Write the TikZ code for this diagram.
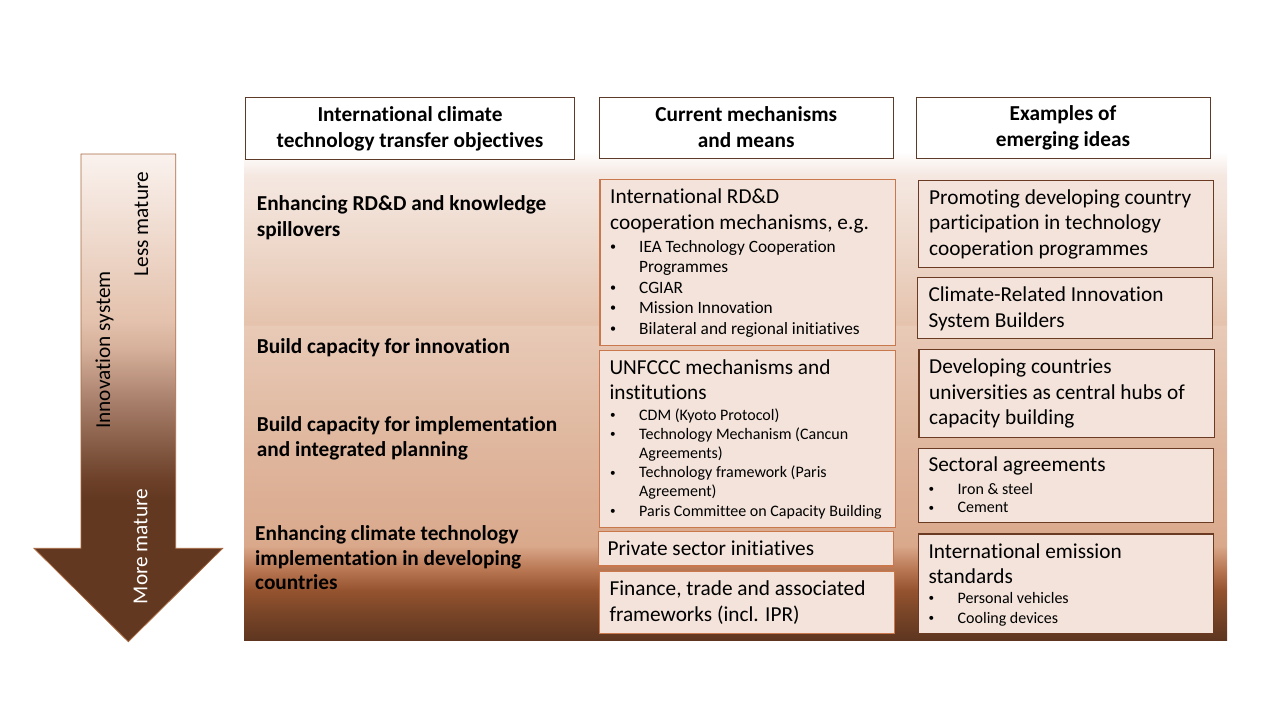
\documentclass[tikz,border=0pt]{standalone}
\usepackage{fontspec}
\setmainfont{Carlito}[Ligatures=NoCommon]

% colours
\definecolor{hdrline}{HTML}{5E3A28}
\definecolor{midline}{HTML}{C8784C}
\definecolor{rightline}{HTML}{6B3A22}
\definecolor{boxfill}{HTML}{F3E3DA}
\definecolor{arrline}{HTML}{A8683F}
% panel shading stops
\definecolor{pA}{HTML}{FFFFFF}
\definecolor{pB}{HTML}{F5E8E1}
\definecolor{pC}{HTML}{EDD7C9}
\definecolor{pD}{HTML}{E5C3AD}
\definecolor{pE}{HTML}{E8CAB7}
\definecolor{pF}{HTML}{DFB69D}
\definecolor{pG}{HTML}{DAA98C}
\definecolor{pH}{HTML}{B87652}
\definecolor{pI}{HTML}{95532F}
\definecolor{pJ}{HTML}{774427}
\definecolor{pK}{HTML}{5E3620}
% arrow shading stops
\definecolor{aA}{HTML}{FAF2EE}
\definecolor{aB}{HTML}{EDD6C8}
\definecolor{aC}{HTML}{E4C2AD}
\definecolor{aD}{HTML}{D5AF99}
\definecolor{aE}{HTML}{A9806C}
\definecolor{aF}{HTML}{8A604A}
\definecolor{aG}{HTML}{6C4029}
\definecolor{aH}{HTML}{633820}

% bbox of a path is mapped onto 25bp..75bp of the shading
\pgfdeclareverticalshading{panelshade}{100bp}{%
  color(0bp)=(pK); color(25bp)=(pK); color(27.6bp)=(pJ); color(30.1bp)=(pI);
  color(32.2bp)=(pH); color(34.7bp)=(pG); color(44.5bp)=(pF);
  color(57.2bp)=(pE); color(57.3bp)=(pD); color(65bp)=(pC);
  color(72.6bp)=(pB); color(75bp)=(pA); color(100bp)=(pA)}
\pgfdeclareverticalshading{arrowshade}{100bp}{%
  color(0bp)=(aH); color(25bp)=(aH); color(39.5bp)=(aH); color(41.6bp)=(aG);
  color(45.7bp)=(aF); color(49.8bp)=(aE); color(54.9bp)=(aD);
  color(58bp)=(aC); color(65.2bp)=(aB); color(75bp)=(aA); color(100bp)=(aA)}

% stacked lines with a fixed baseline distance; node baseline = first line
\newcommand\rows[2]{\vtop{\baselineskip=#1\lineskiplimit=-100pt\lineskip=0pt
  \halign{##\hfil\cr#2\crcr}}}
\newcommand\crows[2]{\vtop{\baselineskip=#1\lineskiplimit=-100pt\lineskip=0pt
  \halign{\hfil##\hfil\cr#2\crcr}}}
\newcommand\bl[1]{\hbox to 30pt{\kern1pt\raisebox{0.1em}{\scalebox{0.7}{\textbullet}}\hfil}#1}
\newcommand\cont[1]{\hskip30pt #1}

% rectangle node given by its corners
\newcommand\boxnode[6]{%
  \node[#2, minimum width=(#5-#3)*1pt, minimum height=(#6-#4)*1pt]
    (#1) at ({(#3+#5)/2},{(#4+#6)/2}) {};}

\tikzset{
  hdr/.style={draw=hdrline, line width=0.9pt, fill=white, inner sep=0pt, outer sep=0pt},
  midbox/.style={draw=midline, line width=1.1pt, fill=boxfill, inner sep=0pt, outer sep=0pt},
  rightbox/.style={draw=rightline, line width=1.1pt, fill=boxfill, inner sep=0pt, outer sep=0pt},
  hdrtext/.style={font=\fontsize{21.3}{26}\selectfont\bfseries, inner sep=0pt, anchor=base},
  lbl/.style={font=\fontsize{21.3}{26}\selectfont\bfseries, inner sep=0pt, anchor=base west},
  body/.style={font=\fontsize{21.3}{26}\selectfont, inner sep=0pt, anchor=base west},
  bullA/.style={font=\fontsize{17.3}{21}\selectfont, inner sep=0pt, anchor=base west},
  bullB/.style={font=\fontsize{16}{19.5}\selectfont, inner sep=0pt, anchor=base west},
  arrtext/.style={font=\fontsize{21.3}{26}\selectfont, inner sep=0pt, anchor=base, rotate=90},
}

\begin{document}
\begin{tikzpicture}[x=1pt,y=-1pt]
\useasboundingbox (0,0) rectangle (1280,720);

% background band behind the three columns
\path[shading=panelshade] (244,152) rectangle (1227,640);

% maturity arrow
\path[shading=arrowshade, draw=arrline, line width=0.8pt]
  (81,154) -- (175.7,154) -- (175.7,548.3) -- (222.7,548.3) -- (128.3,641.7)
  -- (34,548.3) -- (81,548.3) -- cycle;
\node[arrtext] (lessm) at (148,224) {Less mature};
\node[arrtext] (innov) at (110,350) {Innovation system};
\node[arrtext, text=white] (morem) at (147.3,546.5) {More mature};

% column headers
\boxnode{h1}{hdr}{245.7}{97.3}{574.3}{159}
\boxnode{h2}{hdr}{599.3}{97.3}{893.3}{158.3}
\boxnode{h3}{hdr}{916}{97.3}{1210}{158.3}
\node[hdrtext] (h1t) at (410,121.7) {\crows{25.6pt}{International climate\cr technology transfer objectives}};
\node[hdrtext] (h2t) at (746.3,121.7) {\crows{25.6pt}{Current mechanisms\cr and means}};
\node[hdrtext] (h3t) at (1063,120.7) {\crows{25.6pt}{Examples of\cr emerging ideas}};

% objectives
\node[lbl] (l1) at (256.7,210.7) {\rows{25.6pt}{Enhancing RD\&D and knowledge\cr spillovers}};
\node[lbl] (l2) at (256.7,353.3) {\rows{25.6pt}{Build capacity for innovation}};
\node[lbl] (l3) at (256.7,431) {\rows{25.6pt}{Build capacity for implementation\cr and integrated planning}};
\node[lbl] (l4) at (255,540.7) {\rows{24.5pt}{Enhancing climate technology\cr implementation in developing\cr countries}};

% current mechanisms and means
\boxnode{mA}{midbox}{600}{179.3}{895.3}{345.7}
\node[body] (mAt) at (610,203.5) {\rows{25.6pt}{International RD\&D\cr cooperation mechanisms, e.g.}};
\node[bullA] (mAb) at (609,252) {\rows{20.5pt}{\bl{IEA Technology Cooperation}\cr\cont{Programmes}\cr
  \bl{CGIAR}\cr\bl{Mission Innovation}\cr\bl{Bilateral and regional initiatives}}};

\boxnode{mB}{midbox}{599.3}{350.7}{895.3}{527.3}
\node[body] (mBt) at (609.3,374) {\rows{25.6pt}{UNFCCC mechanisms and\cr institutions}};
\node[bullB] (mBb) at (609,420) {\rows{19.2pt}{\bl{CDM (Kyoto Protocol)}\cr
  \bl{Technology Mechanism (Cancun}\cr\cont{Agreements)}\cr
  \bl{Technology framework (Paris}\cr\cont{Agreement)}\cr
  \bl{Paris Committee on Capacity Building}}};

\boxnode{mC}{midbox}{598.3}{531.7}{893.3}{566}
\node[body] (mCt) at (607.3,555) {Private sector initiatives};

\boxnode{mD}{midbox}{599.3}{571.7}{894.3}{633.3}
\node[body] (mDt) at (609.3,595) {\rows{26.5pt}{Finance, trade and associated\cr frameworks (incl. IPR)}};

% emerging ideas
\boxnode{rE}{rightbox}{918.3}{180.7}{1213.3}{267.3}
\node[body] (rEt) at (929,204.3) {\rows{25.5pt}{Promoting developing country\cr participation in technology\cr cooperation programmes}};

\boxnode{rF}{rightbox}{917.3}{277.3}{1212.3}{338.3}
\node[body] (rFt) at (928.3,301.7) {\rows{25.3pt}{Climate-Related Innovation\cr System Builders}};

\boxnode{rG}{rightbox}{919}{349.3}{1214.3}{437.3}
\node[body] (rGt) at (929,373.3) {\rows{25.8pt}{Developing countries\cr universities as central hubs of\cr capacity building}};

\boxnode{rH}{rightbox}{918.3}{448.3}{1213.3}{522.3}
\node[body] (rHt) at (928.3,471.7) {Sectoral agreements};
\node[bullB] (rHb) at (927.5,494) {\rows{18.9pt}{\bl{Iron \& steel}\cr\bl{Cement}}};

\boxnode{rI}{rightbox}{918.3}{534}{1213.3}{633.3}
\node[body] (rIt) at (928.3,558.3) {\rows{25.3pt}{International emission\cr standards}};
\node[bullB] (rIb) at (927.5,603.3) {\rows{20pt}{\bl{Personal vehicles}\cr\bl{Cooling devices}}};
\end{tikzpicture}
\end{document}
